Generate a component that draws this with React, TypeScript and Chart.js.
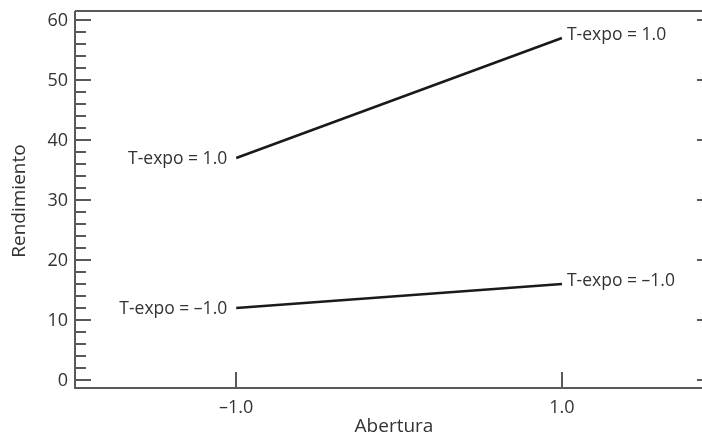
import React, { useEffect, useRef } from "react";
import { Chart, registerables } from "chart.js";

Chart.register(...registerables);

const xCategories = [-1.0, 1.0];
const xTickLabels = ["\u20131.0", "1.0"];
const seriesHigh = [37, 57];
const seriesLow = [12, 16];
const seriesHighLabel = "T-expo = 1.0";
const seriesLowLabel = "T-expo = \u20131.0";
const yMajorTicks = [0, 10, 20, 30, 40, 50, 60];
const yMinorTicks = [2, 4, 6, 8, 12, 14, 16, 18, 22, 24, 26, 28, 32, 34, 36, 38, 42, 44, 46, 48, 52, 54, 56, 58];
const xTitle = "Abertura";
const yTitle = "Rendimiento";

const FONT = '"Open Sans", sans-serif';
const TEXT = "#333333";
const AXIS = "#595959";

const framePlugin = {
  id: "frame",
  beforeDatasetsDraw(chart: any) {
    const { ctx, chartArea } = chart;
    const { left, right, top, bottom } = chartArea;
    const xs = chart.scales.x;
    const ys = chart.scales.y;
    ctx.save();
    ctx.strokeStyle = AXIS;
    ctx.lineWidth = 2;
    ctx.beginPath();
    ctx.moveTo(left, top);
    ctx.lineTo(right, top);
    ctx.moveTo(left, top);
    ctx.lineTo(left, bottom);
    ctx.lineTo(right, bottom);
    ctx.stroke();

    ctx.lineWidth = 2;
    ctx.beginPath();
    yMajorTicks.forEach((v) => {
      const py = Math.round(ys.getPixelForValue(v));
      ctx.moveTo(left, py);
      ctx.lineTo(left + 16, py);
      ctx.moveTo(right, py);
      ctx.lineTo(right - 5, py);
    });
    yMinorTicks.forEach((v) => {
      const py = Math.round(ys.getPixelForValue(v));
      ctx.moveTo(left, py);
      ctx.lineTo(left + 11, py);
    });
    xCategories.forEach((v) => {
      const px = Math.round(xs.getPixelForValue(v));
      ctx.moveTo(px, bottom);
      ctx.lineTo(px, bottom - 16);
    });
    ctx.stroke();

    ctx.fillStyle = TEXT;
    ctx.font = `18px ${FONT}`;
    ctx.textAlign = "right";
    ctx.textBaseline = "middle";
    yMajorTicks.forEach((v) => {
      ctx.fillText(String(v), left - 7, ys.getPixelForValue(v) + 1);
    });
    ctx.textAlign = "center";
    xCategories.forEach((v, i) => {
      ctx.fillText(xTickLabels[i], xs.getPixelForValue(v), bottom + 20);
    });

    ctx.font = `19px ${FONT}`;
    ctx.fillText(xTitle, 394, bottom + 39);
    ctx.save();
    ctx.translate(20, 201);
    ctx.rotate(-Math.PI / 2);
    ctx.fillText(yTitle, 0, 0);
    ctx.restore();
    ctx.restore();
  },
  afterDatasetsDraw(chart: any) {
    const { ctx } = chart;
    const xs = chart.scales.x;
    const ys = chart.scales.y;
    ctx.save();
    ctx.fillStyle = TEXT;
    ctx.font = `17.5px ${FONT}`;
    ctx.textBaseline = "middle";
    const items = [
      { vals: seriesHigh, label: seriesHighLabel },
      { vals: seriesLow, label: seriesLowLabel },
    ];
    items.forEach(({ vals, label }) => {
      ctx.textAlign = "right";
      ctx.fillText(label, xs.getPixelForValue(xCategories[0]) - 9, ys.getPixelForValue(vals[0]) + 1);
      ctx.textAlign = "left";
      ctx.fillText(label, xs.getPixelForValue(xCategories[1]) + 5, ys.getPixelForValue(vals[1]) - 3);
    });
    ctx.restore();
  },
};

export default function App() {
  const ref = useRef<HTMLCanvasElement>(null);
  useEffect(() => {
    document.body.style.margin = "0";
    const canvas = ref.current!;
    const chart = new Chart(canvas, {
      type: "line",
      data: {
        datasets: [
          {
            data: xCategories.map((x, i) => ({ x, y: seriesHigh[i] })),
            borderColor: "#1a1a1a",
            borderWidth: 2.5,
            pointRadius: 0,
          },
          {
            data: xCategories.map((x, i) => ({ x, y: seriesLow[i] })),
            borderColor: "#1a1a1a",
            borderWidth: 2.5,
            pointRadius: 0,
          },
        ],
      },
      options: {
        responsive: false,
        animation: false,
        devicePixelRatio: 1,
        layout: { padding: { left: 75, right: 0, top: 11, bottom: 51 } },
        plugins: { legend: { display: false }, tooltip: { enabled: false } },
        scales: {
          x: { type: "linear", min: -1.99, max: 1.86, display: false },
          y: { type: "linear", min: -1.33, max: 61.5, display: false },
        },
      },
      plugins: [framePlugin],
    });
    return () => chart.destroy();
  }, []);
  return (
    <div style={{ width: 702, height: 439 }}>
      <canvas ref={ref} width={702} height={439} style={{ display: "block" }} />
    </div>
  );
}
